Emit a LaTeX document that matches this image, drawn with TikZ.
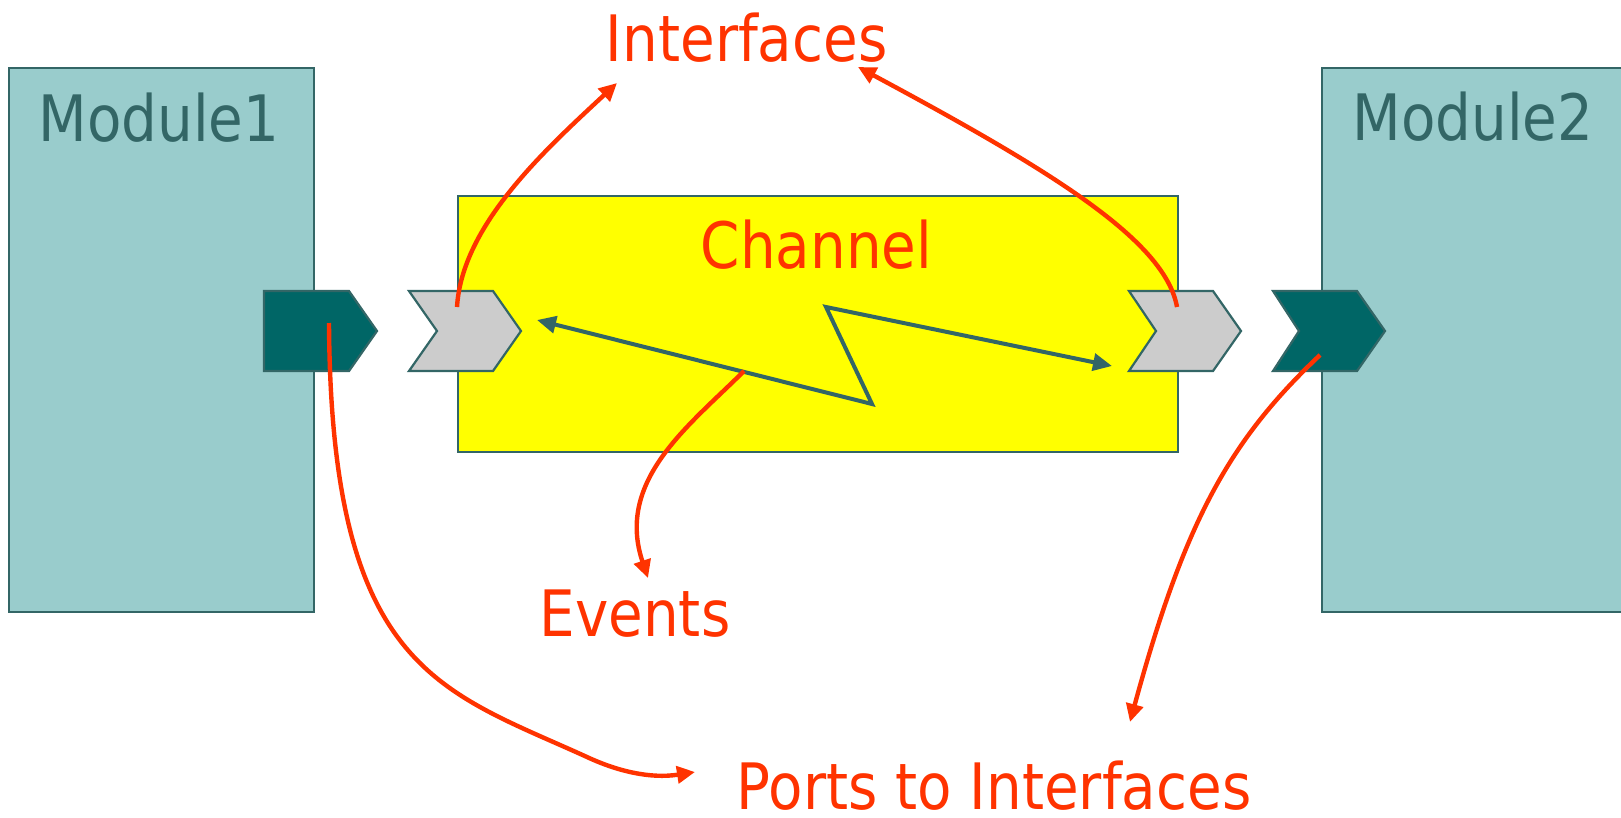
\documentclass[tikz,border=0pt]{standalone}
\usepackage{fontspec}
\setmainfont{DejaVu Sans}[FakeStretch=0.88]
\usetikzlibrary{arrows.meta}

\definecolor{modfill}{HTML}{99CCCC}
\definecolor{edge}{HTML}{336666}
\definecolor{portdark}{HTML}{006666}
\definecolor{portgray}{HTML}{CCCCCC}
\definecolor{chanfill}{HTML}{FFFF00}
\definecolor{callout}{HTML}{FF3300}

\tikzset{
  block/.style={draw=edge, line width=2.4pt, inner sep=0pt, anchor=north west},
  txt/.style={anchor=base, inner sep=0pt, text depth=0pt, font=\fontsize{64}{76}\selectfont},
  modtxt/.style={txt, text=edge},
  notetxt/.style={txt, text=callout},
  portshape/.style={draw=edge, line width=2.2pt, line join=miter},
  callarrow/.style={draw=callout, line width=4.4pt, -{Triangle[length=18pt,width=17pt]}},
  signal/.style={draw=edge, line width=4pt, line join=miter,
    {Triangle[length=19pt,width=17pt]}-{Triangle[length=19pt,width=17pt]}},
}

\begin{document}
\begin{tikzpicture}[x=1pt, y=-1pt]
  \useasboundingbox (0,0) rectangle (1621,817);

  % modules and channel
  \node[block, fill=modfill, minimum width=305pt, minimum height=544pt] (mod1) at (8,67) {};
  \node[block, fill=modfill, minimum width=320pt, minimum height=544pt] (mod2) at (1321,67) {};
  \node[block, fill=chanfill, minimum width=720pt, minimum height=256pt] (chan) at (457,195) {};

  % ports and interfaces
  \draw[portshape, fill=portdark] (264,291) -- (349,291) -- (377,331) -- (349,371) -- (264,371) -- cycle;
  \draw[portshape, fill=portgray] (409,291) -- (493,291) -- (521,331) -- (493,371) -- (409,371) -- (437,331) -- cycle;
  \draw[portshape, fill=portgray] (1129,291) -- (1213,291) -- (1241,331) -- (1213,371) -- (1129,371) -- (1156,331) -- cycle;
  \draw[portshape, fill=portdark] (1273,291) -- (1357,291) -- (1385,331) -- (1357,371) -- (1273,371) -- (1299,331) -- cycle;

  % event signal inside the channel
  \coordinate (sigL) at (537,320);
  \coordinate (sigA) at (872,404);
  \coordinate (sigB) at (826,307);
  \coordinate (sigR) at (1112,366);
  \draw[signal] (sigL) -- (sigA) -- (sigB) -- (sigR);

  % labels
  \node[modtxt] (t1) at (159,141.5) {Module1};
  \node[modtxt] (t2) at (1473,140.5) {Module2};
  \node[notetxt] (tch) at (816.5,268.5) {Channel};
  \node[notetxt] (tif) at (746.7,61) {Interfaces};
  \node[notetxt] (tev) at (635,636) {Events};
  \node[notetxt] (tpt) at (994,809) {Ports to Interfaces};

  % callout anchors
  \coordinate (ifLsrc) at (457,307);
  \coordinate (ifLdst) at (617,83);
  \coordinate (ifRsrc) at (1177,307);
  \coordinate (ifRdst) at (858,67);
  \coordinate (evsrc) at (744,371);
  \coordinate (evdst) at (648,578);
  \coordinate (p1src) at (329,323);
  \coordinate (p1mid) at (587,757);
  \coordinate (p1dst) at (695,772);
  \coordinate (p2src) at (1320,355);
  \coordinate (p2dst) at (1130,722);

  % callout arrows
  \draw[callarrow] (ifLsrc) .. controls (462,225) and (545,150) .. (ifLdst);
  \draw[callarrow] (ifRsrc) .. controls (1165,240) and (1050,170) .. (ifRdst);
  \draw[callarrow] (evsrc) .. controls (690,425) and (615,480) .. (evdst);
  \draw[callarrow] (p1src) .. controls (331,670) and (440,690) .. (p1mid)
                           .. controls (617,771) and (650,779) .. (p1dst);
  \draw[callarrow] (p2src) .. controls (1230,440) and (1185,520) .. (p2dst);
\end{tikzpicture}
\end{document}
